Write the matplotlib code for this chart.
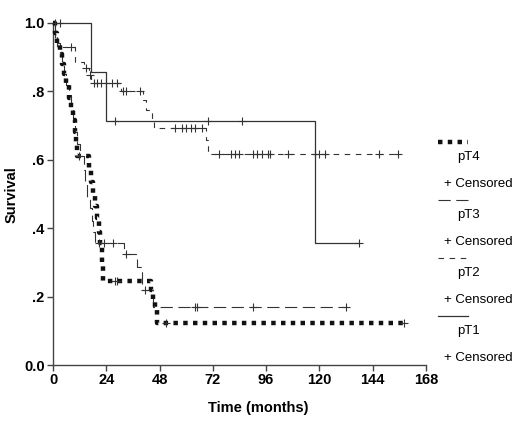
import numpy as np
import matplotlib
matplotlib.use("Agg")
import matplotlib.pyplot as plt
from matplotlib.lines import Line2D

plt.rcParams['font.family'] = ['Liberation Sans', 'DejaVu Sans']

# Kaplan-Meier step data (months, survival after step)
pt1_t = [0, 17, 24, 118]
pt1_s = [1.0, 0.857, 0.714, 0.357]
pt1_end = 138
pt1_cens = [1, 3, 28, 70, 85, 138]

pt2_t = [0, 1, 2, 10, 14, 16, 17, 30.5, 40.5, 42, 44.5, 45.5, 69, 70]
pt2_s = [1.0, 0.96, 0.93, 0.887, 0.867, 0.848, 0.825, 0.802, 0.775, 0.746, 0.716, 0.694, 0.658, 0.617]
pt2_end = 156
pt2_cens = [8, 15, 16.5, 18.5, 20, 21.5, 24, 26.5, 29, 31.5, 33, 39,
            55, 58, 60, 62, 64, 67, 75, 80, 82, 84, 90, 92, 94, 97, 98,
            106, 118, 120, 122.5, 147, 155.5]

pt3_t = [0, 1, 2, 3, 4, 5, 6, 7, 8, 9, 10, 11, 12, 14, 14.5, 15.5, 16.5, 17.5, 18, 19, 32, 38, 40, 45]
pt3_s = [1.0, 0.97, 0.94, 0.91, 0.88, 0.85, 0.82, 0.79, 0.76, 0.72, 0.68, 0.645, 0.61, 0.57, 0.535,
         0.49, 0.46, 0.42, 0.39, 0.357, 0.325, 0.287, 0.22, 0.17]
pt3_end = 132
pt3_cens = [20.5, 23, 27, 33, 41.5, 64, 65, 90, 132]

pt4_t = [0, 1, 2, 3, 4, 5, 6, 7, 8, 9, 10, 10.5, 11, 16, 17, 18, 19, 20, 20.5, 21, 22, 22.5, 44, 45, 46, 47]
pt4_s = [1.0, 0.97, 0.94, 0.91, 0.88, 0.85, 0.82, 0.78, 0.745, 0.715, 0.68, 0.645, 0.61, 0.57, 0.535,
         0.50, 0.465, 0.43, 0.39, 0.357, 0.30, 0.245, 0.22, 0.19, 0.16, 0.123]
pt4_end = 158
pt4_cens = [11.5, 28, 29, 51, 158]

x_ticks = [0, 24, 48, 72, 96, 120, 144, 168]
y_ticks = [0.0, 0.2, 0.4, 0.6, 0.8, 1.0]
y_ticklabels = ["0.0", ".2", ".4", ".6", ".8", "1.0"]

styles = {
    "pT4": dict(color="#111111", lw=3.2, ls=(0, (1, 1.2)), dash_capstyle="butt"),
    "pT3": dict(color="#333333", lw=0.8, ls=(0, (11, 5))),
    "pT2": dict(color="#333333", lw=0.8, ls=(0, (5, 5))),
    "pT1": dict(color="#333333", lw=0.9, ls="-"),
}

groups = [
    ("pT4", pt4_t, pt4_s, pt4_end, pt4_cens),
    ("pT3", pt3_t, pt3_s, pt3_end, pt3_cens),
    ("pT2", pt2_t, pt2_s, pt2_end, pt2_cens),
    ("pT1", pt1_t, pt1_s, pt1_end, pt1_cens),
]

fig = plt.figure(figsize=(5.25, 4.25), dpi=100)
ax = fig.add_axes([0.101, 0.141, 0.71, 0.805])

for name, t, s, end, cens in groups:
    tt = np.append(t, end)
    ss = np.append(s, s[-1])
    st = styles[name]
    ax.step(tt, ss, where="post", color=st["color"], lw=st["lw"], ls=st["ls"],
            clip_on=False, zorder=3 if name == "pT4" else 2)
    # censor marks sit on the curve level at that time
    idx = np.searchsorted(t, cens, side="right") - 1
    cy = np.asarray(s)[idx]
    ax.plot(cens, cy, ls="none", marker="+", ms=6, mew=0.8,
            color="#333333", clip_on=False, zorder=4)

ax.set_xlim(0, 168)
ax.set_ylim(0, 1.0)
ax.set_xticks(x_ticks)
ax.set_yticks(y_ticks)
ax.set_yticklabels(y_ticklabels)
for sp in ["top", "right"]:
    ax.spines[sp].set_visible(False)
for sp in ["left", "bottom"]:
    ax.spines[sp].set_color("#444444")
    ax.spines[sp].set_linewidth(1.0)
ax.tick_params(length=4, width=1, color="#444444", labelsize=10.5, pad=2)
for lab in ax.get_xticklabels() + ax.get_yticklabels():
    lab.set_fontweight("bold")

fig.text(12 / 525, 1 - 195 / 425, "Survival", fontsize=10.5, fontweight="bold",
         rotation=90, ha="center", va="center")
fig.text(258 / 525, 1 - 408 / 425, "Time (months)", fontsize=10.5,
         fontweight="bold", ha="center", va="center")

# manual legend on the right (positions in pixels)
W, H = 525, 425
leg_top = 142
for i, (name, *_rest) in enumerate(groups):
    y0 = leg_top + i * 58
    st = styles[name]
    fig.add_artist(Line2D([438 / W, 468 / W], [1 - y0 / H, 1 - y0 / H],
                          color=st["color"], lw=st["lw"], ls=st["ls"]))
    fig.text(457 / W, 1 - (y0 + 15) / H, name, fontsize=9.5, va="center", ha="left")
    fig.text(444 / W, 1 - (y0 + 42) / H, "+ Censored", fontsize=9.5, va="center", ha="left")

fig.savefig("out.png", dpi=100)
